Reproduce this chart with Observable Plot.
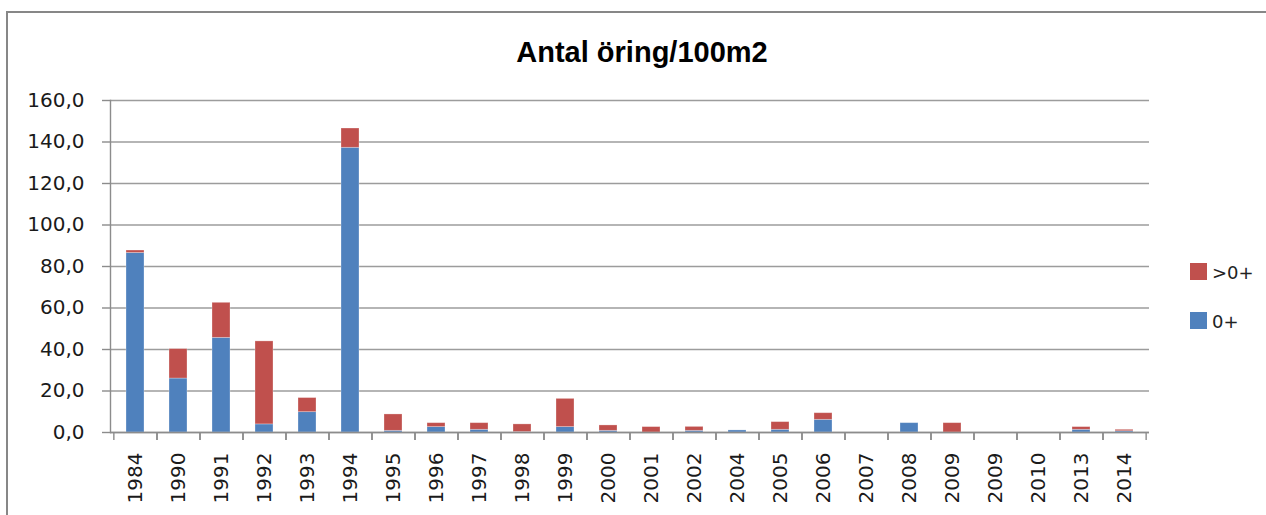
<!DOCTYPE html>
<html>
<head>
<meta charset="utf-8">
<script src="https://cdn.jsdelivr.net/npm/d3@7"></script>
<script src="https://cdn.jsdelivr.net/npm/@observablehq/plot@0.6"></script>
<style>
  html, body { margin: 0; padding: 0; background: #fff; }
  #wrap { position: relative; width: 1266px; height: 515px; overflow: hidden; background: #fff; }
  #border { position: absolute; left: 6px; top: 11px; width: 1300px; height: 600px; border-left: 2px solid #878787; border-top: 2px solid #878787; box-sizing: border-box; }
  #title { position: absolute; left: 0; width: 1284px; top: 38px; text-align: center; font-family: "Liberation Sans", Arial, sans-serif; font-weight: bold; font-size: 29px; line-height: 29px; color: #000; }
  .leg { position: absolute; font-family: "DejaVu Sans", sans-serif; font-size: 18px; color: #222; line-height: 18px; }
  .sw { position: absolute; width: 17px; height: 17px; }
  svg { position: absolute; left: 0; top: 0; }
</style>
</head>
<body>
<div id="wrap">
  <div id="border"></div>
  <div id="chart"></div>
  <div id="title">Antal öring/100m2</div>
</div>
<script>
const years = ["1984","1990","1991","1992","1993","1994","1995","1996","1997","1998","1999","2000","2001","2002","2004","2005","2006","2007","2008","2009","2009","2010","2013","2014"];
const young = [86.5, 26.0, 45.6, 3.9, 9.8, 137.2, 0.8, 2.6, 1.3, 0.2, 2.6, 0.8, 0.0, 0.8, 1.0, 1.3, 6.1, 0, 4.5, 0, 0, 0, 1.3, 0.6];
const older = [1.2, 14.2, 16.9, 40.0, 6.8, 9.3, 7.9, 1.9, 3.2, 3.7, 13.6, 2.6, 2.6, 1.9, 0, 3.7, 3.2, 0, 0, 4.5, 0, 0, 1.3, 0.7];
const seriesNames = ["0+", ">0+"];
const seriesColors = ["#4F81BD", "#C0504D"];
const yTicks = [0, 20, 40, 60, 80, 100, 120, 140, 160];

const rows = [];
years.forEach((y, i) => {
  rows.push({i, series: seriesNames[0], value: young[i]});
  rows.push({i, series: seriesNames[1], value: older[i]});
});

const W = 1266, H = 515, mL = 110, mR = 117, mT = 100, mB = 83;
const step = (W - mL - mR) / years.length;
const grey = "#8c8c8c";
const font = "DejaVu Sans";

const chart = Plot.plot({
  width: W, height: H,
  marginLeft: mL, marginRight: mR, marginTop: mT, marginBottom: mB,
  style: {fontFamily: font, background: "transparent", overflow: "visible"},
  x: {type: "band", domain: d3.range(years.length), paddingInner: 0.58, paddingOuter: 0.29},
  y: {domain: [0, 160]},
  color: {domain: seriesNames, range: seriesColors},
  marks: [
    Plot.gridY(yTicks, {stroke: "#9c9c9c", strokeOpacity: 1, strokeWidth: 1.4}),
    Plot.barY(rows, Plot.stackY({x: "i", y: "value", fill: "series", stroke: "#ffffff", strokeOpacity: 0.35, strokeWidth: 0.8})),
    Plot.ruleY([0], {stroke: grey, strokeWidth: 1.4}),
    Plot.frame({anchor: "left", stroke: grey, strokeWidth: 1.4}),
    Plot.axisY(yTicks, {tickFormat: d => d.toFixed(1).replace(".", ","), tickSize: 8, tickPadding: 18, fontSize: 20, label: null, stroke: grey, strokeWidth: 1.4, fill: "#1a1a1a"}),
    Plot.axisX({tickFormat: i => years[i], tickRotate: -90, tickSize: 0, tickPadding: 20, fontSize: 20, label: null, fill: "#1a1a1a"}),
    Plot.axisX({tickFormat: () => "", tickSize: 8, label: null, dx: -step / 2, stroke: grey, strokeWidth: 1.4}),
    Plot.axisX({tickFormat: () => "", tickSize: 8, label: null, dx: step / 2, stroke: grey, strokeWidth: 1.4})
  ]
});
document.getElementById("chart").appendChild(chart);

// legend (reverse order like Excel: >0+ on top)
const wrap = document.getElementById("wrap");
const legOrder = [1, 0];
legOrder.forEach((k, j) => {
  const top = 263 + j * 49;
  const sw = document.createElement("div");
  sw.className = "sw";
  sw.style.left = "1190px";
  sw.style.top = top + "px";
  sw.style.background = seriesColors[k];
  wrap.appendChild(sw);
  const t = document.createElement("div");
  t.className = "leg";
  t.style.left = "1212px";
  t.style.top = (top + 1) + "px";
  t.textContent = seriesNames[k];
  wrap.appendChild(t);
});
</script>
</body>
</html>
